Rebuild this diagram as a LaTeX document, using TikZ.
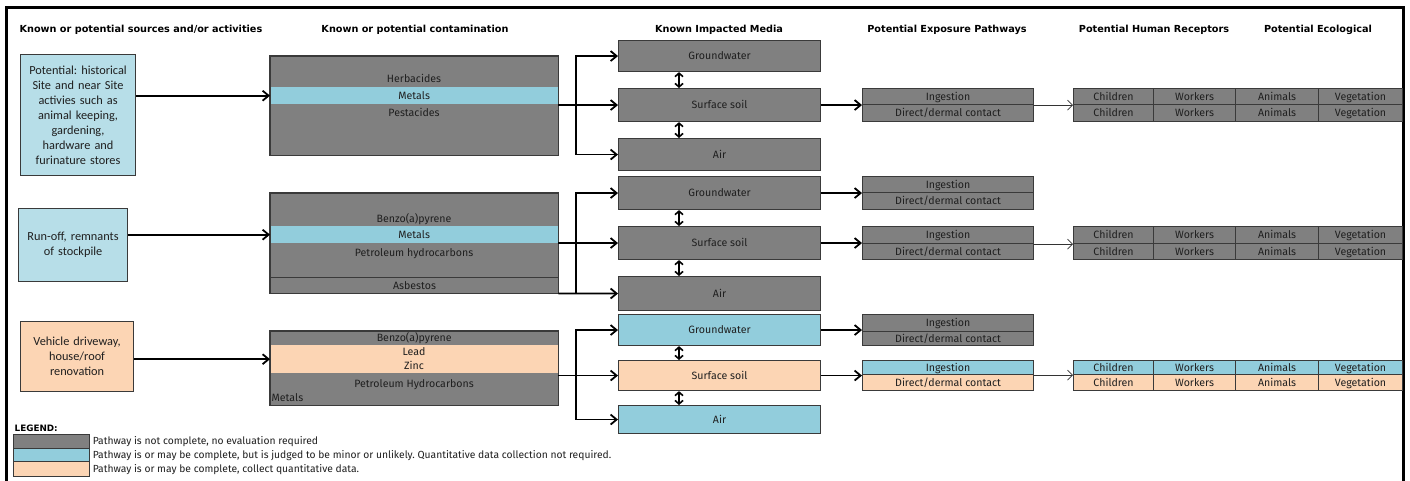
\documentclass[tikz,border=0pt]{standalone}
\usepackage{fontspec}
\setmainfont{Carlito}
\newfontfamily\bodyfont{Fira Sans}
\newfontfamily\srcfont{Carlito}
\newfontfamily\hdfont{DejaVu Sans}
\usetikzlibrary{arrows.meta,calc}
\definecolor{cgray}{HTML}{808080}
\definecolor{cblue}{HTML}{92CDDC}
\definecolor{cpeach}{HTML}{FCD5B4}
\definecolor{sblue}{HTML}{B7DEE8}
\definecolor{bord}{HTML}{3A3A3A}
\frenchspacing
\begin{document}
\begin{tikzpicture}[x=1pt,y=-1pt,
  wh/.style 2 args={minimum width=#1pt, minimum height=#2pt},
  box/.style={draw=bord, line width=1.1pt, anchor=north west, inner sep=0pt,
    font=\bodyfont\fontsize{10.6}{12}\selectfont, text=black!88,
    text height=8.6pt, text depth=1.4pt},
  band/.style={anchor=north west, inner sep=0pt,
    font=\bodyfont\fontsize{10.6}{12}\selectfont, text=black!88,
    text height=8.6pt, text depth=1.4pt},
  bline/.style={draw=bord, line width=1.1pt},
  src/.style={draw=bord, line width=1.1pt, anchor=north west, inner sep=0pt,
    font=\srcfont\fontsize{12.3}{15}\selectfont, align=center, text=black!88},
  txt/.style={font=\bodyfont\fontsize{10.6}{12}\selectfont, inner sep=0pt, text=black!88,
    text height=8.6pt, text depth=1.4pt},
  hdr/.style={font=\hdfont\bfseries\fontsize{9.7}{12}\selectfont, anchor=base, inner sep=0pt},
  legtxt/.style={font=\bodyfont\fontsize{10.3}{12}\selectfont, inner sep=0pt, anchor=west, text=black!88,
    text height=8.2pt, text depth=1.4pt},
  arr/.style={line width=1.8pt, -{Straight Barb[length=6pt,width=10pt]}},
  tarr/.style={line width=0.7pt, draw=black!80, -{Straight Barb[length=5pt,width=10pt]}},
  dbl/.style={line width=1.6pt, {Straight Barb[length=3.5pt,width=8pt]}-{Straight Barb[length=3.5pt,width=8pt]}},
]
\useasboundingbox (0,0) rectangle (1410,481);
\fill[white] (0,0) rectangle (1410,481);

% frame
\draw[line width=3pt] (6.5,481) -- (6.5,8) -- (1403.5,8) -- (1403.5,481);

% headers
\node[hdr] (h1) at (141,33) {Known or potential sources and/or activities};
\node[hdr] (h2) at (415,33) {Known or potential contamination};
\node[hdr] (h3) at (719,33) {Known Impacted Media};
\node[hdr] (h4) at (947,33) {Potential Exposure Pathways};
\node[hdr] (h5) at (1154,33) {Potential Human Receptors};
\node[hdr] (h6) at (1318,33) {Potential Ecological};

% sources
\node[src, wh={115}{121}, fill=sblue, text width=112pt] (s1) at (20,54)
  {Potential: historical\\Site and near Site\\activies such as\\animal keeping,\\gardening,\\hardware and\\furinature stores};
\node[src, wh={109}{73}, fill=sblue, text width=106pt] (s2) at (18,208)
  {Run-off, remnants\\of stockpile};
\node[src, wh={113}{70}, fill=cpeach, text width=110pt] (s3) at (20,321)
  {Vehicle driveway,\\house/roof\\renovation};

% contamination 1
\node[band, wh={288}{99}, fill=cgray] (c1) at (270,56) {};
\node[band, wh={288}{17}, fill=cblue] (c1m) at (270,87) {Metals};
\node[txt] (c1t1) at (414,79) {Herbacides};
\node[txt] (c1t2) at (414,113) {Pestacides};
\draw[bline] (c1.north west) rectangle (c1.south east);

% contamination 2
\node[band, wh={288}{100}, fill=cgray] (c2) at (270,193) {};
\node[band, wh={288}{17}, fill=cblue] (c2m) at (270,226) {Metals};
\node[txt] (c2t1) at (414,219) {Benzo(a)pyrene};
\node[txt] (c2t2) at (414,253) {Petroleum hydrocarbons};
\node[box, wh={288}{16}, fill=cgray] (c2a) at (270,277) {Asbestos};
\draw[bline] (c2.north west) rectangle (c2.south east);

% contamination 3
\node[band, wh={288}{74}, fill=cgray] (c3) at (270,331) {};
\node[band, wh={288}{14}, fill=cgray] (c3b) at (270,331) {Benzo(a)pyrene};
\node[band, wh={288}{28}, fill=cpeach] (c3p) at (270,345) {};
\node[txt] (c3t1) at (414,352) {Lead};
\node[txt] (c3t2) at (414,366) {Zinc};
\node[txt] (c3t3) at (414,384) {Petroleum Hydrocarbons};
\node[txt, anchor=west] (c3t4) at (271.5,398) {Metals};
\draw[bline] (c3.north west) rectangle (c3.south east);

% media
\node[box, wh={202}{31}, fill=cgray] (gw1) at (618,40) {Groundwater};
\node[box, wh={202}{33}, fill=cgray] (ss1) at (618,88) {Surface soil};
\node[box, wh={202}{32}, fill=cgray] (air1) at (618,138) {Air};
\node[box, wh={202}{33}, fill=cgray] (gw2) at (618,176) {Groundwater};
\node[box, wh={202}{33}, fill=cgray] (ss2) at (618,226) {Surface soil};
\node[box, wh={202}{34}, fill=cgray] (air2) at (618,276) {Air};
\node[box, wh={202}{31}, fill=cblue] (gw3) at (618,314) {Groundwater};
\node[box, wh={202}{30}, fill=cpeach] (ss3) at (618,360) {Surface soil};
\node[box, wh={202}{28}, fill=cblue] (air3) at (618,405) {Air};

% exposure pathways
\node[box, wh={171}{16}, fill=cgray] (e1a) at (862,88) {Ingestion};
\node[box, wh={171}{17}, fill=cgray] (e1b) at (862,104) {Direct/dermal contact};
\node[box, wh={171}{16}, fill=cgray] (e2a) at (862,176) {Ingestion};
\node[box, wh={171}{17}, fill=cgray] (e2b) at (862,192) {Direct/dermal contact};
\node[box, wh={171}{17}, fill=cgray] (e3a) at (862,226) {Ingestion};
\node[box, wh={171}{16}, fill=cgray] (e3b) at (862,243) {Direct/dermal contact};
\node[box, wh={171}{17}, fill=cgray] (e4a) at (862,314) {Ingestion};
\node[box, wh={171}{14}, fill=cgray] (e4b) at (862,331) {Direct/dermal contact};
\node[box, wh={171}{14}, fill=cblue] (e5a) at (862,360) {Ingestion};
\node[box, wh={171}{16}, fill=cpeach] (e5b) at (862,374) {Direct/dermal contact};

% receptors
\foreach \p/\ya/\ha/\ca/\yb/\hb/\cb in {r1/88/16/cgray/104/17/cgray, r2/226/17/cgray/243/16/cgray, r3/360/14/cblue/374/16/cpeach}{
  \node[box, wh={80}{\ha}, fill=\ca] (\p a1) at (1073,\ya) {Children};
  \node[box, wh={82}{\ha}, fill=\ca] (\p a2) at (1153,\ya) {Workers};
  \node[box, wh={83}{\ha}, fill=\ca] (\p a3) at (1235,\ya) {Animals};
  \node[box, wh={84}{\ha}, fill=\ca] (\p a4) at (1318,\ya) {Vegetation};
  \node[box, wh={80}{\hb}, fill=\cb] (\p b1) at (1073,\yb) {Children};
  \node[box, wh={82}{\hb}, fill=\cb] (\p b2) at (1153,\yb) {Workers};
  \node[box, wh={83}{\hb}, fill=\cb] (\p b3) at (1235,\yb) {Animals};
  \node[box, wh={84}{\hb}, fill=\cb] (\p b4) at (1318,\yb) {Vegetation};
}

% source -> contamination
\draw[arr] (s1.east |- c1m.west) -- (c1m.west);
\draw[arr] (s2.east |- c2m.west) -- (c2m.west);
\draw[arr] (s3.east |- c3p.west) -- (c3p.west);

% contamination -> media
\coordinate (b1) at (576,104);
\coordinate (b2) at (576,243);
\coordinate (b3) at (576,373);
\draw[arr] (c1.east |- ss1.west) -- (ss1.west);
\draw[arr] (b1 |- air1.west) -- (b1 |- gw1.west) -- (gw1.west);
\draw[arr] (b1 |- ss1.west) -- (b1 |- air1.west) -- (air1.west);
\draw[arr] (c2.east |- ss2.west) -- (ss2.west);
\draw[arr] (c2.south east) -- (air2.west);
\draw[arr] (b2 |- air2.west) -- (b2 |- gw2.west) -- (gw2.west);
\draw[arr] (c3.east |- ss3.west) -- (ss3.west);
\draw[arr] (b3 |- air3.west) -- (b3 |- gw3.west) -- (gw3.west);
\draw[arr] (b3 |- ss3.west) -- (b3 |- air3.west) -- (air3.west);

% media <-> media
\foreach \g/\s/\a in {gw1/ss1/air1, gw2/ss2/air2, gw3/ss3/air3}{
  \draw[dbl] ($(\g.south west)+(61,0)$) -- ($(\s.north west)+(61,0)$);
  \draw[dbl] ($(\s.south west)+(61,0)$) -- ($(\a.north west)+(61,0)$);
}

% media -> exposure
\draw[arr] (ss1.east) -- (ss1.east -| e1a.west);
\draw[arr] (gw2.east) -- (gw2.east -| e2a.west);
\draw[arr] (ss2.east) -- (ss2.east -| e3a.west);
\draw[arr] (gw3.east) -- (gw3.east -| e4a.west);
\draw[arr] (ss3.east) -- (ss3.east -| e5a.west);

% exposure -> receptors
\draw[tarr] (e1a.south east) -- (r1a1.south west);
\draw[tarr] (e3a.south east) -- (r2a1.south west);
\draw[tarr] (e5a.south east) -- (r3a1.south west);

% legend
\node[font=\hdfont\bfseries\fontsize{8.8}{10}\selectfont, anchor=base west, inner sep=0pt] (leg) at (14.5,431.5) {LEGEND:};
\node[box, wh={76}{14}, fill=cgray] (lg1) at (13,434) {};
\node[box, wh={76}{13}, fill=cblue] (lg2) at (13,448) {};
\node[box, wh={76}{15}, fill=cpeach] (lg3) at (13,461) {};
\node[legtxt] (lt1) at ($(lg1.east)+(2.5,0)$) {Pathway is not complete, no evaluation required};
\node[legtxt] (lt2) at ($(lg2.east)+(2.5,0)$) {Pathway is or may be complete, but is judged to be minor or unlikely. Quantitative data collection not required.};
\node[legtxt] (lt3) at ($(lg3.east)+(2.5,0)$) {Pathway is or may be complete, collect quantitative data.};
\end{tikzpicture}
\end{document}
